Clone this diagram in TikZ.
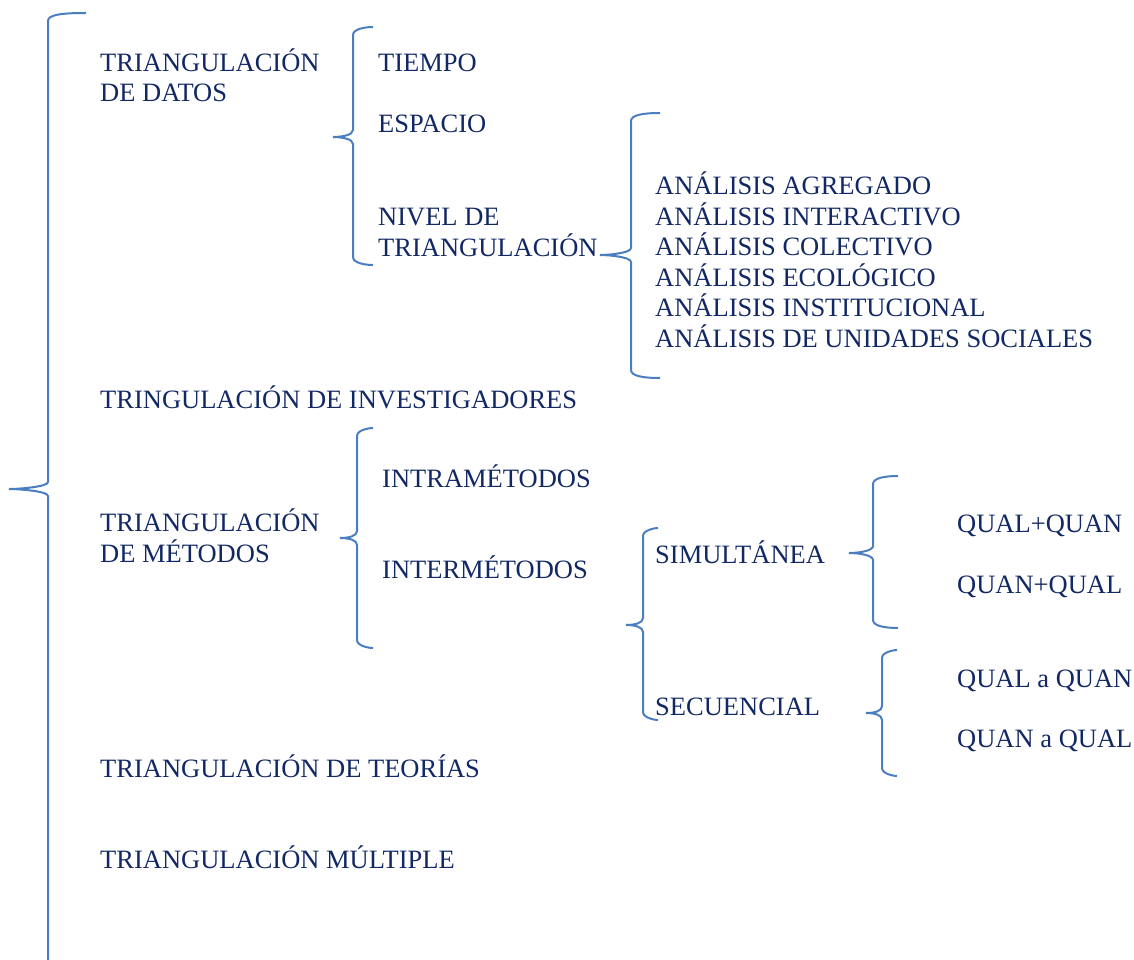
\documentclass[tikz,border=0pt]{standalone}
\usepackage{fontspec}
\setmainfont{Liberation Serif}
\definecolor{azul}{RGB}{18,40,100}
\definecolor{celeste}{RGB}{74,126,193}
\newcommand{\llave}[6]{%
  \draw[llave] (#1,#2) .. controls ({#3+12},#2) and (#3,{#2+2}) .. (#3,{#2+8})
    -- (#3,{#5-7}) .. controls (#3,{#5-2}) and ({#4+9},#5) .. (#4,#5)
    .. controls ({#4+9},#5) and (#3,{#5+2}) .. (#3,{#5+7})
    -- (#3,{#6-8}) .. controls (#3,{#6-2}) and ({#3+12},#6) .. (#1,#6);}

\begin{document}
\begin{tikzpicture}[x=1pt,y=-1pt]
                        \tikzstyle{txt}=[anchor=base west, inner sep=0pt, text=azul, align=left,
                            font=\fontsize{26.5}{30.5}\selectfont]
                        \tikzstyle{llave}=[draw=celeste, line width=2pt]
                        \clip (0,0) rectangle (1134,960);
                        \llave{86}{13}{48}{9}{489}{968}
                        \llave{373}{27}{353}{333}{137}{265}
                        \llave{660}{113}{631}{600}{255}{378}
                        \llave{373}{428}{357}{340}{538}{648}
                        \llave{658}{528}{643}{626}{625}{720}
                        \llave{898}{476}{873}{849}{553}{628}
                        \llave{897}{650}{882}{866}{713}{776}
                        \node[txt] (datos) at (100,102) {TRIANGULACIÓN\\DE DATOS};
                        \node[txt] (tiempo) at (378,72) {TIEMPO};
                        \node[txt] (espacio) at (378,133) {ESPACIO};
                        \node[txt] (nivel) at (378,256) {NIVEL DE\\TRIANGULACIÓN};
                        \node[txt] (analisis) at (655,347) {ANÁLISIS AGREGADO\\ANÁLISIS INTERACTIVO\\
                            ANÁLISIS COLECTIVO\\ANÁLISIS ECOLÓGICO\\ANÁLISIS INSTITUCIONAL\\
                            ANÁLISIS DE UNIDADES SOCIALES};
                        \node[txt] (investig) at (100,408) {TRINGULACIÓN DE INVESTIGADORES};
                        \node[txt] (metodos) at (100,562) {TRIANGULACIÓN\\DE MÉTODOS};
                        \node[txt] (intra) at (382,487) {INTRAMÉTODOS};
                        \node[txt] (inter) at (382,578) {INTERMÉTODOS};
                        \node[txt] (simul) at (655,563) {SIMULTÁNEA};
                        \node[txt] (secuen) at (655,715) {SECUENCIAL};
                        \node[txt] (qualquan) at (957,532) {QUAL+QUAN};
                        \node[txt] (quanqual) at (957,593) {QUAN+QUAL};
                        \node[txt] (qualaquan) at (957,687) {QUAL a QUAN};
                        \node[txt] (quanaqual) at (957,747) {QUAN a QUAL};
                        \node[txt] (teorias) at (100,777) {TRIANGULACIÓN DE TEORÍAS};
                        \node[txt] (multiple) at (100,868) {TRIANGULACIÓN MÚLTIPLE};
                    \end{tikzpicture}
\end{document}
